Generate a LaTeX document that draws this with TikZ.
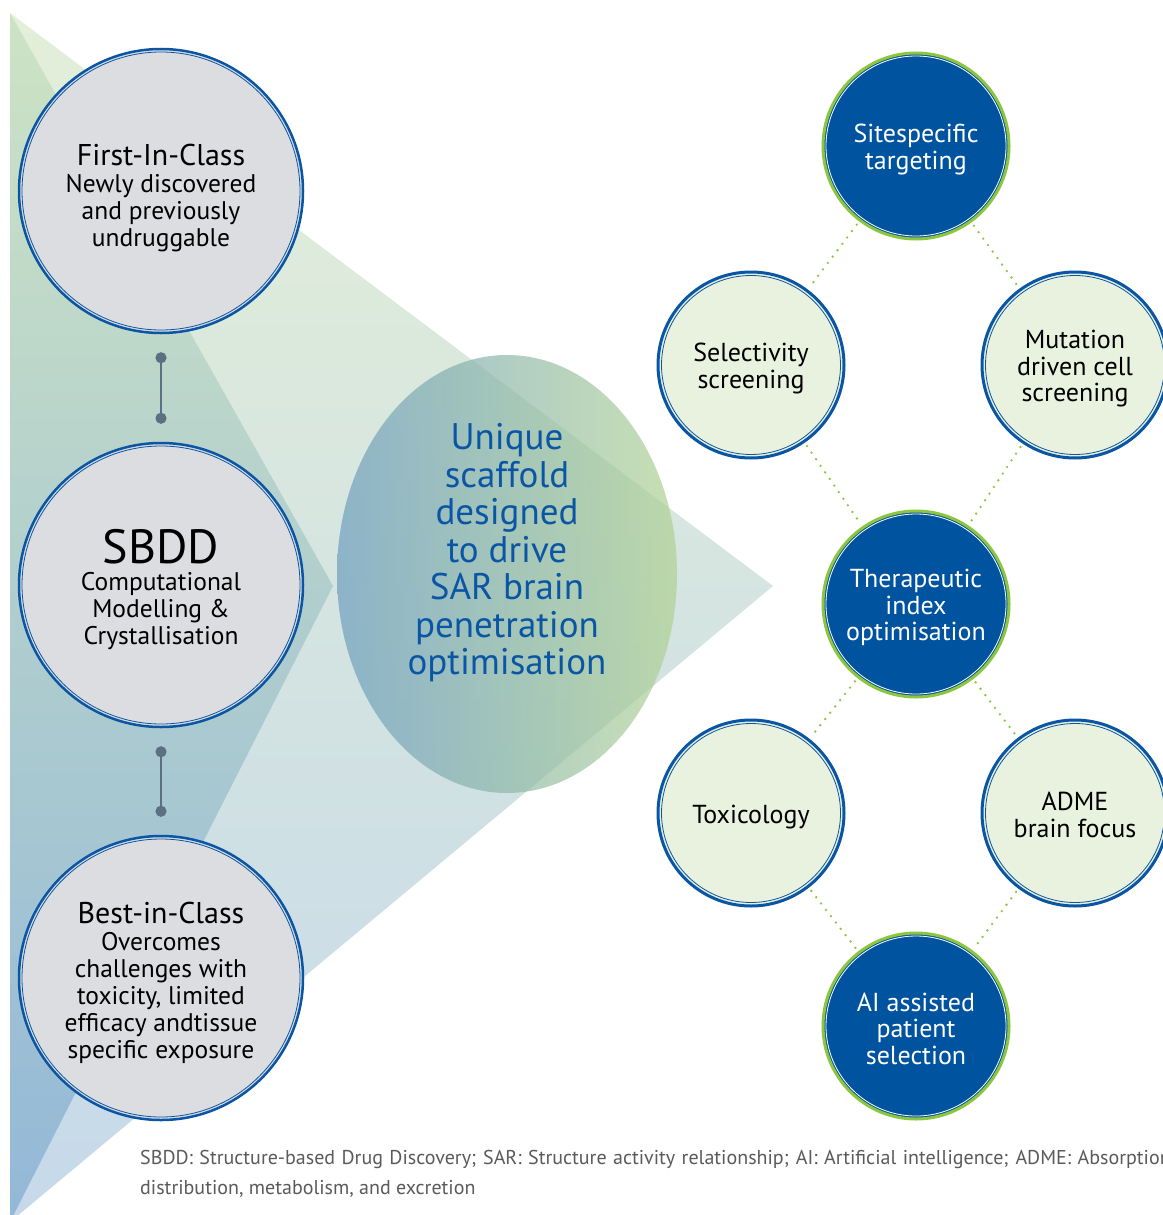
\documentclass[tikz,border=0pt]{standalone}
\usepackage{fontspec}
\setmainfont{PT Sans}
\newfontfamily\notefont{PT Sans}
\usetikzlibrary{arrows.meta,positioning}

\definecolor{ringblue}{HTML}{0B56A4}
\definecolor{deepblue}{HTML}{00539F}
\definecolor{ringgreen}{HTML}{8CC63F}
\definecolor{palegreen}{HTML}{E9F2DF}
\definecolor{ballgray}{HTML}{DCDDE0}
\definecolor{linkgray}{HTML}{5B7080}
\definecolor{notegray}{HTML}{5A5A5A}
\definecolor{wedgetop}{HTML}{E3EFD8}
\definecolor{wedgemid}{HTML}{DCE9E0}
\definecolor{wedgebot}{HTML}{C6D9EA}
\definecolor{coretop}{HTML}{CDE3C4}
\definecolor{coremid}{HTML}{BED8CB}
\definecolor{corebot}{HTML}{93B8D8}
\definecolor{ovalleft}{HTML}{6E9FBF}
\definecolor{ovalright}{HTML}{B0D293}

\tikzset{
  bigball/.style={circle, minimum size=284pt, inner sep=0pt, fill=ballgray,
    draw=ringblue, line width=2.5pt, align=center, text=black,
    font=\fontsize{25.5}{27}\selectfont},
  darkball/.style={circle, minimum size=186pt, inner sep=0pt, fill=deepblue,
    draw=ringgreen, line width=3pt, align=center, text=white,
    font=\fontsize{26}{26.5}\selectfont},
  paleball/.style={circle, minimum size=186pt, inner sep=0pt, fill=palegreen,
    draw=ringblue, line width=3pt, align=center, text=black,
    font=\fontsize{26}{26.5}\selectfont},
  linkline/.style={linkgray, line width=2.5pt,
    {Circle[length=11pt]}-{Circle[length=11pt]}},
  dotlink/.style={ringgreen, line width=2.6pt, line cap=round,
    dash pattern=on 0pt off 8pt, shorten >=4pt, shorten <=4pt},
}

\begin{document}
\begin{tikzpicture}[x=1pt,y=-1pt]
   \useasboundingbox (0,0) rectangle (1162,1215);

   % backdrop
   \shade[top color=wedgetop, middle color=wedgemid, bottom color=wedgebot]
     (10,13) -- (773,586) -- (10,1222) -- cycle;
   \shade[top color=coretop, middle color=coremid, bottom color=corebot]
     (10,13) -- (333,586) -- (10,1222) -- cycle;
   \shade[left color=ovalleft, right color=ovalright, opacity=.7]
     (507,574) ellipse (170 and 219);
   \node[text=ringblue, align=center, font=\fontsize{37}{37.5}\selectfont] (scaffold)
     at (507,553) {Unique\\scaffold\\designed\\to drive\\SAR brain\\penetration\\optimisation};

   % left column
   \node[bigball] (first) at (161,191)
     {\rule{0pt}{35pt}{\fontsize{30}{30}\selectfont First-In-Class}\\Newly discovered\\and previously\\undruggable};
   \node[bigball] (sbdd) at (161,585)
     {\rule{0pt}{44pt}{\fontsize{48}{44}\selectfont SBDD}\\Computational\\Modelling \&\\Crystallisation};
   \node[bigball] (best) at (161,978)
     {\rule{0pt}{32pt}{\fontsize{30}{30}\selectfont Best-in-Class}\\Overcomes\\challenges with\\toxicity, limited\\efficacy andtissue\\specific exposure};
   \draw[ringblue, line width=.8pt] (first.center) circle (139);
   \draw[ringblue, line width=.8pt] (sbdd.center) circle (139);
   \draw[ringblue, line width=.8pt] (best.center) circle (139);
   \draw[linkline] ([yshift=-18pt]first.south) -- ([yshift=18pt]sbdd.north);
   \draw[linkline] ([yshift=-18pt]sbdd.south) -- ([yshift=18pt]best.north);

   % right diamond
   \node[darkball] (site) at (916,146) {\rule{0pt}{26pt}Sitespecific\\targeting};
   \node[paleball] (select) at (751,365) {\rule{0pt}{26pt}Selectivity\\screening};
   \node[paleball] (mutation) at (1075,365) {\rule{0pt}{26pt}Mutation\\driven cell\\screening};
   \node[darkball] (thera) at (916,604) {\rule{0pt}{26pt}Therapeutic\\index\\optimisation};
   \node[paleball] (toxic) at (751,813) {\rule{0pt}{26pt}Toxicology};
   \node[paleball] (adme) at (1075,813) {\rule{0pt}{22pt}ADME\\brain focus};
   \node[darkball] (aiassist) at (916,1026) {\rule{0pt}{24pt}AI assisted\\patient\\selection};
   \draw[white, line width=.8pt] (site.center) circle (90);
   \draw[white, line width=.8pt] (thera.center) circle (90);
   \draw[white, line width=.8pt] (aiassist.center) circle (90);
   \draw[ringblue, line width=.8pt] (select.center) circle (89.5);
   \draw[ringblue, line width=.8pt] (mutation.center) circle (89.5);
   \draw[ringblue, line width=.8pt] (toxic.center) circle (89.5);
   \draw[ringblue, line width=.8pt] (adme.center) circle (89.5);

   \draw[dotlink] (site) -- (select);
   \draw[dotlink] (site) -- (mutation);
   \draw[dotlink] (select) -- (thera);
   \draw[dotlink] (mutation) -- (thera);
   \draw[dotlink] (thera) -- (toxic);
   \draw[dotlink] (thera) -- (adme);
   \draw[dotlink] (toxic) -- (aiassist);
   \draw[dotlink] (adme) -- (aiassist);

   % footnote
   \node[anchor=north west, inner sep=0pt, text width=1035pt, align=justify,
     text=notegray, font=\notefont\fontsize{20}{30}\selectfont] (note) at (140,1150)
     {SBDD: Structure-based Drug Discovery; SAR: Structure activity relationship; AI: Artificial intelligence; ADME: Absorption,\linebreak distribution, metabolism, and excretion};
 \end{tikzpicture}
\end{document}
